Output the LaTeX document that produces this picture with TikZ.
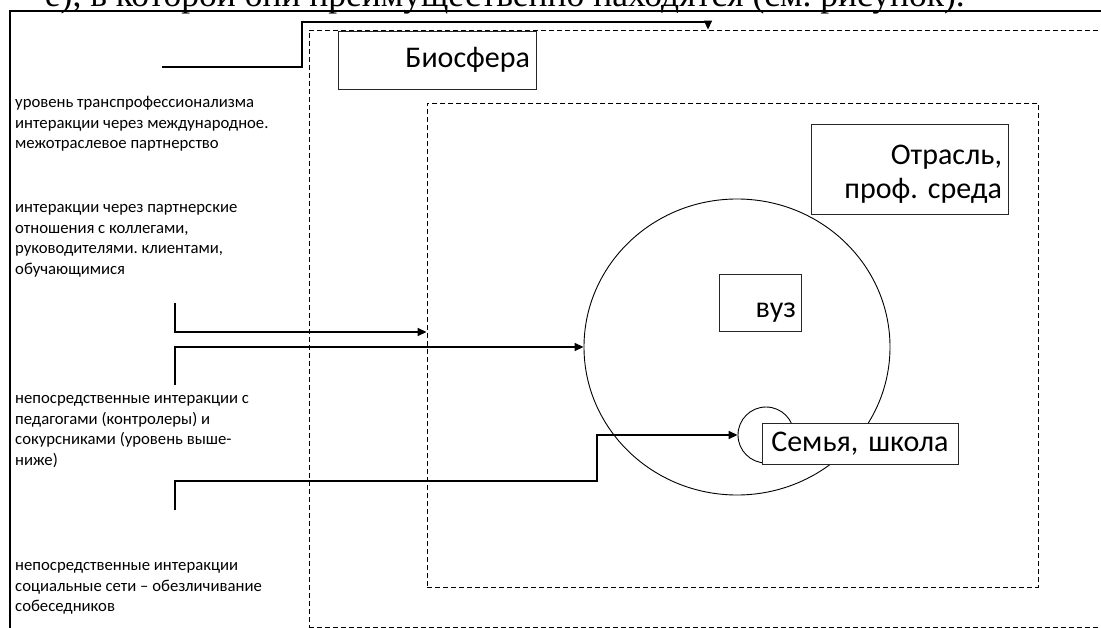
\documentclass[tikz,border=0pt]{standalone}
\usepackage{fontspec}
\setmainfont{Carlito}
\newfontfamily\serifru{Liberation Serif}
\usetikzlibrary{arrows.meta,shapes.geometric}
\frenchspacing
\begin{document}
\begin{tikzpicture}[x=1pt,y=-1pt,
  frame/.style={line width=2.2pt},
  zone/.style={draw, dashed, dash pattern=on 5pt off 3pt, line width=0.9pt, inner sep=0pt},
  conn/.style={line width=1.6pt, -{Triangle[length=9pt,width=8pt]}},
  lbl/.style={draw=black!85, line width=0.9pt, fill=white, font=\frenchspacing\fontsize{30}{34}\selectfont, inner ysep=0pt},
  note/.style={anchor=base west, inner sep=0pt, font=\frenchspacing\fontsize{16.7}{20.7}\selectfont},
  ring/.style={draw, line width=0.9pt, inner sep=0pt},
]
\useasboundingbox (0,0) rectangle (1101,628);
\clip (0,0) rectangle (1101,628);

% cut-off line of running text above the figure
\node[anchor=base east, inner sep=0pt, font=\serifru\fontsize{35.5}{40}\selectfont] (toptext) at (965,7)
  {е), в которой они преимущественно находятся (см. рисунок).};

% outer frame
\draw[frame] (10,640) -- (10,11) -- (1120,11);

% zones
\node[zone, minimum width=900pt, minimum height=597pt] (bio) at (759,328.5) {};
\node[zone, minimum width=611pt, minimum height=484pt] (ind) at (732.5,345) {};

% circles
\node[ring, ellipse, minimum width=306pt, minimum height=296pt] (vuzc) at (737,347) {};
\node[ring, circle, minimum size=56pt] (fam) at (766,435) {};

% left notes
\node[note] (n1) at (15,107.5) {\parbox[t]{320pt}{\raggedright уровень транспрофессионализма\\интеракции через международное.\\межотраслевое партнерство}};
\node[note] (n2) at (15,212.5) {\parbox[t]{320pt}{\raggedright интеракции через партнерские\\отношения с коллегами,\\руководителями. клиентами,\\обучающимися}};
\node[note] (n3) at (15,403.5) {\parbox[t]{320pt}{\raggedright непосредственные интеракции с\\педагогами (контролеры) и\\сокурсниками (уровень выше-\\ниже)}};
\node[note] (n4) at (15,570.5) {\parbox[t]{320pt}{\raggedright непосредственные интеракции\\социальные сети -- обезличивание\\собеседников}};

% connectors
\coordinate (s1) at (162,67);
\coordinate (k1) at (302,22);
\coordinate (k1b) at (708,22);
\draw[conn] (s1) -| (k1) -- (k1b) -- (k1b |- bio.north);

\coordinate (s2) at (175,303);
\coordinate (k2) at (175,332);
\draw[conn] (s2) -- (k2) -- (k2 -| ind.west);

\coordinate (s3) at (175,385);
\draw[conn] (s3) |- (vuzc.west);

\coordinate (s4) at (175,510);
\coordinate (k4) at (597,481);
\draw[conn] (s4) |- (k4) |- (fam.west);

% label boxes
\node[lbl, text width=186pt, inner xsep=6pt, minimum height=58pt, align=right] (biobox) at (437,60) {Биосфера};
\node[lbl, text width=185pt, inner xsep=6pt, minimum height=90pt, align=right] (otrbox) at (909.5,169) {\rule{0pt}{30pt}Отрасль,\\проф. среда};
\node[lbl, text width=72pt, inner xsep=5pt, minimum height=57pt, align=right] (vuzbox) at (760,302.5) {\rule{0pt}{35pt}вуз};
\node[lbl, text width=184pt, inner xsep=6pt, minimum height=41pt, align=center] (fambox) at (860,443.5) {Семья, школа};
\end{tikzpicture}
\end{document}
